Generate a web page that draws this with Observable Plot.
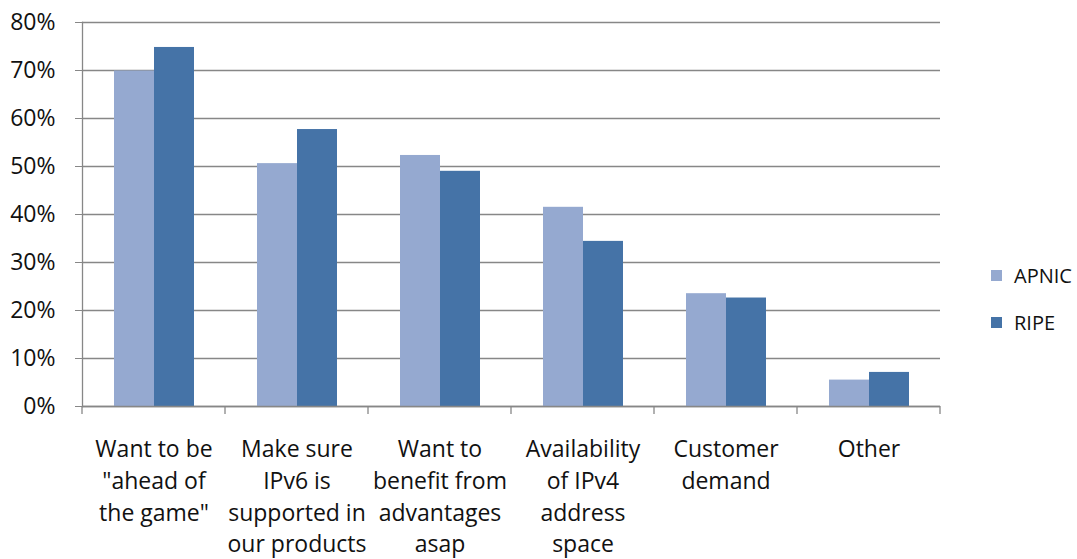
<!DOCTYPE html>
<html>
<head>
<meta charset="utf-8">
<script src="https://cdn.jsdelivr.net/npm/d3@7"></script>
<script src="https://cdn.jsdelivr.net/npm/@observablehq/plot@0.6"></script>
<style>
  html, body { margin: 0; padding: 0; background: #fff; }
  #wrap { position: relative; width: 1077px; height: 559px; font-family: "Open Sans", sans-serif; color: #111; }
  #legend { position: absolute; left: 991px; top: 261px; font-size: 20px; }
  #legend .item { display: flex; align-items: center; height: 28px; margin-bottom: 19px; }
  #legend .sw { width: 11px; height: 11px; margin-right: 12px; }
</style>
</head>
<body>
<div id="wrap"><div id="legend"></div></div>
<script>
const categories = [
  'Want to be\n"ahead of\nthe game"',
  'Make sure\nIPv6 is\nsupported in\nour products',
  'Want to\nbenefit from\nadvantages\nasap',
  'Availability\nof IPv4\naddress\nspace',
  'Customer\ndemand',
  'Other'
];
const series = ["APNIC", "RIPE"];
const apnic = [69.9, 50.6, 52.3, 41.5, 23.5, 5.5];
const ripe  = [74.8, 57.7, 49.0, 34.4, 22.6, 7.1];
const yTicks = [0, 10, 20, 30, 40, 50, 60, 70, 80];
const colors = ["#95A9D0", "#4573A7"];

const data = categories.flatMap((c, i) => [
  {cat: c, series: "APNIC", value: apnic[i]},
  {cat: c, series: "RIPE", value: ripe[i]}
]);

const gridColor = "#878787";

const chart = Plot.plot({
  width: 1077,
  height: 559,
  marginLeft: 81,
  marginRight: 137,
  marginTop: 22,
  marginBottom: 153,
  style: {fontFamily: "'Open Sans', sans-serif", fontSize: "23px", color: "#111", background: "white"},
  fx: {domain: categories, padding: 0, label: null, axis: null},
  x: {domain: series, paddingInner: 0, paddingOuter: 0.746, axis: null},
  y: {domain: [0, 80], label: null},
  color: {domain: series, range: colors},
  marks: [
    Plot.gridY(yTicks, {stroke: gridColor, strokeOpacity: 1, strokeWidth: 1.3}),
    Plot.barY(data, {fx: "cat", x: "series", y: "value", fill: "series"}),
    Plot.ruleY([0], {stroke: gridColor, strokeWidth: 1.3}),
    Plot.axisY(yTicks, {tickFormat: d => d + "%", tickSize: 7, tickPadding: 20, stroke: gridColor, strokeOpacity: 1, label: null, fontSize: 23}),
    Plot.axisFx({anchor: "bottom", tickSize: 0, tickPadding: 28, lineHeight: 1.38, label: null, fontSize: 23}),
    Plot.frame({anchor: "left", facetAnchor: "left", stroke: gridColor, strokeWidth: 1.3})
  ]
});

// bottom axis ticks at category boundaries, from the fx scale
const fx = chart.scale("fx");
const yS = chart.scale("y");
const y0 = yS.apply(0);
const bounds = categories.map(c => fx.apply(c));
bounds.push(fx.apply(categories[categories.length - 1]) + fx.bandwidth);
const svg = d3.select(chart.tagName.toLowerCase() === "svg" ? chart : chart.querySelector("svg"));
svg.append("g")
  .selectAll("line")
  .data(bounds)
  .join("line")
  .attr("x1", d => d).attr("x2", d => d)
  .attr("y1", y0).attr("y2", y0 + 8)
  .attr("stroke", gridColor).attr("stroke-width", 1.3);

document.getElementById("wrap").prepend(chart);

const legend = d3.select("#legend");
series.forEach((s, i) => {
  const item = legend.append("div").attr("class", "item");
  item.append("div").attr("class", "sw").style("background", colors[i]);
  item.append("span").text(s);
});
</script>
</body>
</html>
